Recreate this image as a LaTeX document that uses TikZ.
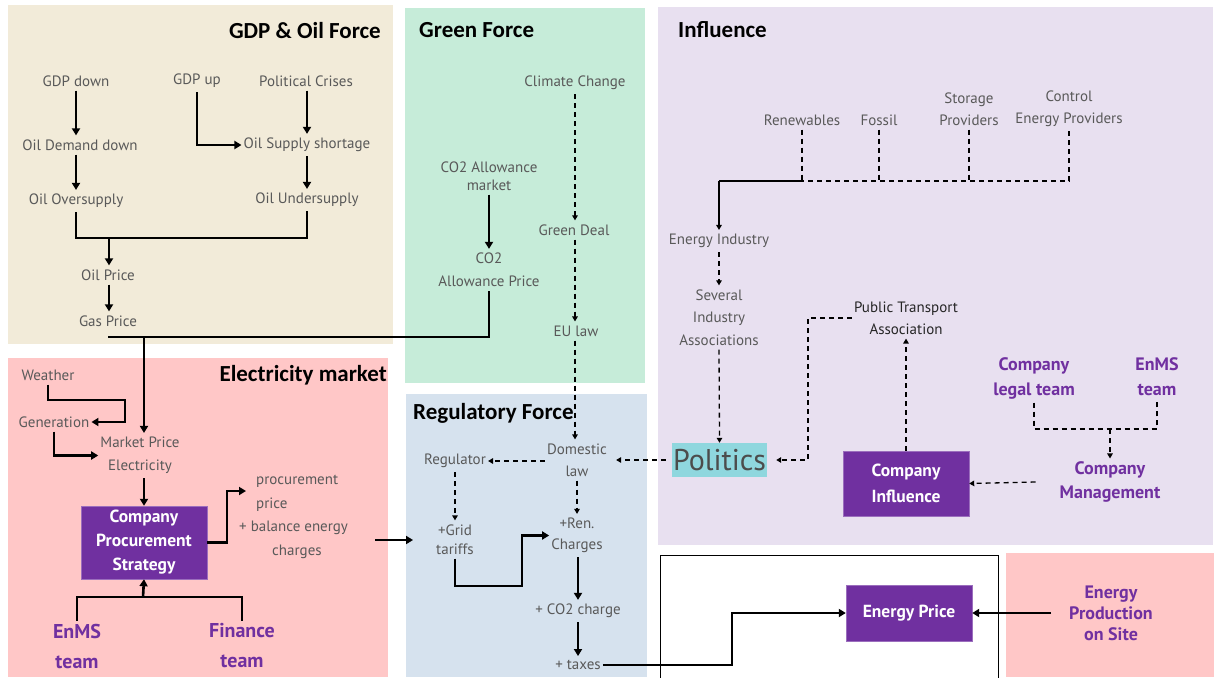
\documentclass[tikz,border=0pt]{standalone}
\usepackage{fontspec}
\setmainfont{PT Sans}
\newfontfamily\calfont{Carlito}
\usetikzlibrary{arrows.meta,calc}
\definecolor{beige}{HTML}{F2EBD9}
\definecolor{mint}{HTML}{C6ECD9}
\definecolor{lav}{HTML}{E8E0F0}
\definecolor{rose}{HTML}{FFC7C7}
\definecolor{sky}{HTML}{D6E2EE}
\definecolor{purp}{HTML}{7030A0}
\definecolor{teal}{HTML}{8FD7DE}
\definecolor{gtext}{HTML}{595959}
\begin{document}
\begin{tikzpicture}[x=1pt,y=-1pt,
  ttl/.style={font=\calfont\bfseries\fontsize{23}{25}\selectfont, text=black, inner sep=0pt},
  lbl/.style={text=gtext, font=\fontsize{15}{22}\selectfont, inner xsep=2pt, inner ysep=4pt, align=center},
  blk/.style={lbl, text=black!85},
  pbox/.style={fill=purp, draw=purp!70, text=white, font=\bfseries\fontsize{17.5}{24}\selectfont, align=center, inner sep=0pt},
  ptxt/.style={text=purp, font=\bfseries\fontsize{18}{25}\selectfont, align=center, inner xsep=2pt, inner ysep=3pt},
  sline/.style={line width=2.6pt},
  arr/.style={sline, -{Triangle[length=7pt,width=8pt]}},
  thin/.style={line width=1.5pt, -{Triangle[length=5pt,width=5.5pt]}},
  dline/.style={line width=1.3pt, dash pattern=on 5pt off 4pt},
  darr/.style={dline, -{Triangle[length=5pt,width=5.5pt]}}]
\useasboundingbox (0,0) rectangle (1214,677);
\fill[white] (0,0) rectangle (1214,677);
% panels
\fill[beige] (8,5) rectangle (393,344);
\fill[mint] (405,8) rectangle (645,383);
\fill[lav] (658,7) rectangle (1213,545);
\fill[rose] (8,358) rectangle (388,677);
\fill[sky] (406,394) rectangle (647,677);
\draw[line width=0.8pt] (660,555) rectangle (998,680);
\fill[rose] (1006,553) rectangle (1214,677);

% titles
\node[ttl, anchor=east] (tgdp) at (381,31) {GDP \& Oil Force};
\node[ttl, anchor=west] (tgreen) at (419,30) {Green Force};
\node[ttl, anchor=west] (tinf) at (678,30) {Influence};
\node[ttl, anchor=east] (telec) at (387,375) {Electricity market};
\node[ttl, anchor=west] (treg) at (413,413) {Regulatory Force};

% GDP & Oil
\node[lbl] (gdpdown) at (76,81) {GDP down};
\node[lbl] (gdpup) at (197,81) {GDP up};
\node[lbl] (crises) at (306,81) {Political Crises};
\node[lbl] (demand) at (80,145) {Oil Demand down};
\node[lbl] (shortage) at (307,145) {Oil Supply shortage};
\node[lbl] (over) at (76,201) {Oil Oversupply};
\node[lbl] (under) at (307,200) {Oil Undersupply};
\node[lbl] (oilprice) at (108,275) {Oil Price};
\node[lbl] (gasprice) at (108,321) {Gas Price};
\coordinate (m1) at (109,238);
\coordinate (gj) at (144,337);

\draw[arr] (over.north |- gdpdown.south) -- (over.north |- demand.north);
\draw[arr] (gdpup.south) |- (shortage.west);
\draw[arr] (shortage.north |- crises.south) -- (shortage.north);
\draw[arr] (over.north |- demand.south) -- (over.north);
\draw[arr] (shortage.south) -- (shortage.south |- under.north);
\draw[sline] (over.south) |- (under.south |- m1) -- (under.south);
\draw[arr] (m1) -- (m1 |- oilprice.north);
\draw[arr] (m1 |- oilprice.south) -- (m1 |- gasprice.north);

% Green
\node[lbl] (climate) at (575,83) {Climate Change};
\node[lbl] (greendeal) at (574,230) {Green Deal};
\node[lbl] (eulaw) at (576,331) {EU law};
\node[lbl, font=\fontsize{15}{18}\selectfont] (co2mkt) at (489,176) {CO2 Allowance\\market};
\node[lbl, font=\fontsize{15}{23}\selectfont] (co2price) at (489,270) {CO2\\Allowance Price};
\draw[darr] (climate.south) -- (climate.south |- greendeal.north);
\draw[darr] (climate.south |- greendeal.south) -- (climate.south |- eulaw.north);
\draw[arr] (co2mkt.south) -- (co2price.north);

% gas / co2 price line
\draw[sline] (gasprice.south |- gj) -- (co2price.south |- gj) -- (co2price.south);

% Regulatory
\node[lbl, font=\fontsize{15}{22}\selectfont] (domestic) at (577,460) {Domestic\\law};
\node[lbl] (regulator) at (455,461) {Regulator};
\node[lbl, font=\fontsize{15}{19}\selectfont] (grid) at (455,539.5) {+Grid\\tariffs};
\node[lbl, font=\fontsize{15}{21}\selectfont] (ren) at (577,535.5) {+Ren.\\Charges};
\node[lbl] (co2charge) at (578,611) {+ CO2 charge};
\node[lbl] (taxes) at (578,665) {+ taxes};
\coordinate (gr1) at (522,586);
\coordinate (tx) at (732,640);

\draw[darr] (climate.south |- eulaw.south) -- (climate.south |- domestic.north);
\draw[darr] (domestic.west |- regulator.east) -- (regulator.east);
\draw[darr] (regulator.south) -- (grid.north);
\draw[darr] (domestic.south) -- (ren.north);
\draw[arr] (grid.south) |- (gr1) |- (ren.west);
\draw[arr] (co2charge.north |- ren.south) -- (co2charge.north);
\draw[arr] (co2charge.south) -- (co2charge.south |- taxes.north);

% Electricity market
\node[lbl] (weather) at (48,375) {Weather};
\node[lbl] (generation) at (54,422) {Generation};
\node[lbl, font=\fontsize{15}{23}\selectfont] (mpe) at (140,455.5) {Market Price\\Electricity};
\node[pbox, minimum width=126pt, minimum height=73pt] (cps) at (144,542.5) {Company\\Procurement\\Strategy};
\node[lbl, anchor=north west, align=left, font=\fontsize{15}{23.5}\selectfont] (proc) at (254,471) {procurement\\price\\\hspace*{-17pt}+ balance energy\\\hspace*{16pt}charges};
\node[ptxt, font=\bfseries\fontsize{20}{30}\selectfont] (enms1) at (77,646) {EnMS\\team};
\node[ptxt, font=\bfseries\fontsize{20}{30}\selectfont] (finance) at (242,646) {Finance\\team};
\coordinate (w1) at (125,400);
\coordinate (pc) at (227,491);
\coordinate (t1) at (143,597);
\coordinate (pr) at (375,540);

\draw[arr] (gj) -- (gj |- mpe.north);
\draw[arr] (weather.south) |- (w1) |- (generation.east);
\draw[arr] (generation.south) |- (mpe.west);
\draw[arr] (cps.north |- mpe.south) -- (cps.north);
\draw[arr, shorten >=8pt] (cps.east) -| (pc) -- (pc -| proc.west);
\draw[sline] (enms1.north) |- (t1) -| (finance.north);
\draw[arr] (t1) -- (cps.south);
\draw[arr, shorten >=21pt] (pr) -- (pr -| grid.west);

% Influence
\node[lbl] (renew) at (802,120) {Renewables};
\node[lbl] (fossil) at (879,120) {Fossil};
\node[lbl] (storage) at (969,109) {Storage\\Providers};
\node[lbl] (control) at (1069,109) {Control\\Energy Providers};
\node[lbl] (eind) at (719,241) {Energy Industry};
\node[lbl, font=\fontsize{15}{22.5}\selectfont] (several) at (719,317.5) {Several\\Industry\\Associations};
\node[fill=teal, text=gtext!85!black, font=\fontsize{30}{32}\selectfont, minimum width=95pt, minimum height=34pt, inner sep=0pt] (politics) at (719.5,460) {Politics};
\node[blk] (pta) at (906,318) {Public Transport\\Association};
\node[pbox, minimum width=126pt, minimum height=65pt, font=\bfseries\fontsize{17.5}{26}\selectfont] (cinf) at (906,483.5) {Company\\Influence};
\node[ptxt] (legal) at (1034,378.5) {Company\\legal team};
\node[ptxt] (enms2) at (1157,376.5) {EnMS\\team};
\node[ptxt, font=\bfseries\fontsize{18}{24}\selectfont] (cmgmt) at (1110,482) {Company\\Management};
\coordinate (h1) at (719,181);
\coordinate (p1) at (808,460);
\coordinate (lj) at (1110,429);

\draw[dline] (renew.south) -- (renew.south |- h1);
\draw[dline] (fossil.south) -- (fossil.south |- h1);
\draw[dline] (storage.south) -- (storage.south |- h1);
\draw[dline] (control.south) |- (renew.south |- h1);
\draw[line width=1.5pt] (renew.south |- h1) -- (h1);
\draw[thin] (h1) -- (eind.north);
\draw[darr] (eind.south) -- (several.north);
\draw[darr] (several.south) -- (politics.north);
\draw[darr, shorten >=9pt] (pta.west) -| (p1) -- (politics.east);
\draw[darr] (cinf.north) -- (pta.south);
\draw[dline] (legal.south) |- (lj) -| (enms2.south);
\draw[darr] (lj) -- (cmgmt.north);
\draw[darr] ([xshift=-22pt]cmgmt.west) -- (cinf.east);
\draw[darr, shorten >=7pt] ([xshift=-6pt]politics.west) -- (domestic.east);

% Energy price
\node[pbox, minimum width=126pt, minimum height=56pt] (eprice) at (909,613) {Energy Price};
\node[ptxt, font=\bfseries\fontsize{18}{21}\selectfont] (eprod) at (1111,613) {Energy\\Production\\on Site};
\draw[arr] (taxes.east) -- (taxes.east -| tx) |- (eprice.west);
\draw[arr] ([xshift=-16pt]eprod.west) -- (eprice.east);
\end{tikzpicture}
\end{document}
